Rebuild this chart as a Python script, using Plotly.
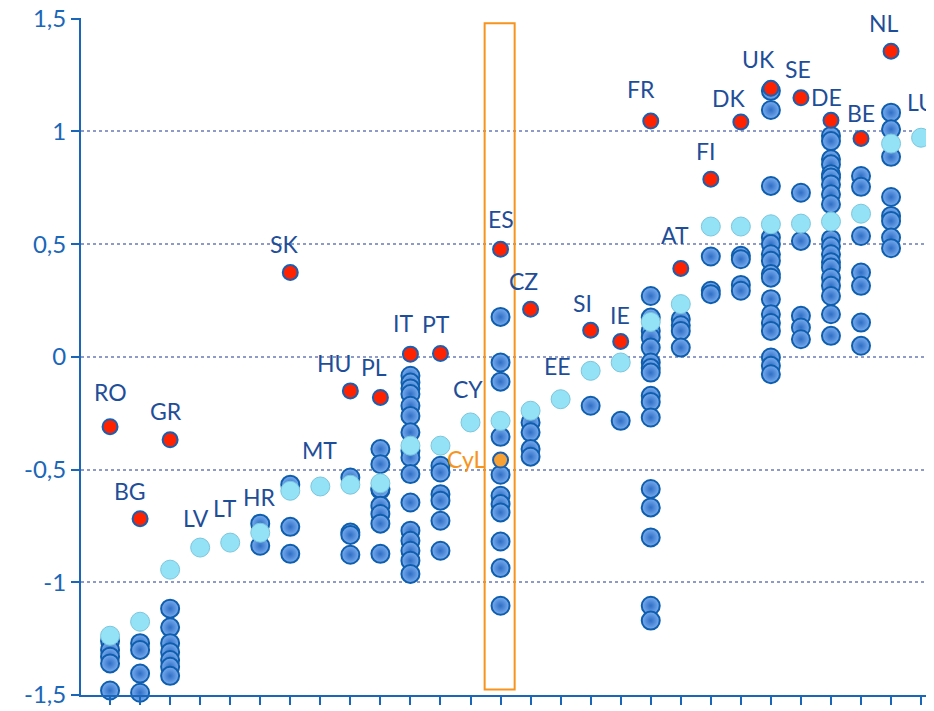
import plotly.graph_objects as go

# country codes, left to right
countries = ["RO", "BG", "GR", "LV", "LT", "HR", "SK", "MT", "HU", "PL", "IT", "PT", "CY", "ES",
             "CZ", "EE", "SI", "IE", "FR", "AT", "FI", "DK", "UK", "SE", "DE", "BE", "NL", "LU"]

# capital region (red dots), None where not shown
capital = [-0.31, -0.718, -0.368, None, None, None, 0.374, None, -0.151, -0.18, 0.012, 0.015, None, 0.477,
           0.211, None, 0.118, 0.068, 1.046, 0.392, 0.788, 1.042, 1.191, 1.149, 1.049, 0.969, 1.356, None]

# national value (light blue dots)
national = [-1.237, -1.175, -0.944, -0.846, -0.824, -0.78, -0.594, -0.575, -0.567, -0.561, -0.394, -0.394,
            -0.291, -0.284, -0.239, -0.188, -0.062, -0.025, 0.155, 0.234, 0.578, 0.578, 0.588, 0.591,
            0.600, 0.635, 0.946, 0.972]

# other regions (dark blue dots)
regions = [
    [-1.26, -1.30, -1.33, -1.36, -1.48],
    [-1.27, -1.30, -1.405, -1.49],
    [-1.117, -1.20, -1.27, -1.31, -1.345, -1.375, -1.415],
    [],
    [],
    [-0.74, -0.838],
    [-0.567, -0.754, -0.874],
    [],
    [-0.535, -0.779, -0.79, -0.878],
    [-0.409, -0.476, -0.59, -0.585, -0.66, -0.697, -0.74, -0.874],
    [-0.084, -0.114, -0.14, -0.165, -0.217, -0.262, -0.335, -0.417, -0.446, -0.52, -0.646, -0.771,
     -0.816, -0.86, -0.904, -0.963],
    [-0.483, -0.513, -0.609, -0.638, -0.727, -0.86],
    [],
    [0.177, -0.025, -0.11, -0.355, -0.523, -0.616, -0.653, -0.69, -0.819, -0.937, -1.104],
    [-0.291, -0.335, -0.409, -0.443],
    [],
    [-0.217],
    [-0.284],
    [0.27, 0.174, 0.115, 0.086, 0.041, -0.025, -0.05, -0.07, -0.173, -0.2, -0.269, -0.586, -0.668,
     -0.801, -1.104, -1.17],
    [0.167, 0.14, 0.115, 0.041],
    [0.445, 0.293, 0.278],
    [0.448, 0.433, 0.319, 0.293],
    [1.18, 1.095, 0.758, 0.529, 0.5, 0.455, 0.426, 0.367, 0.351, 0.256, 0.189, 0.15, 0.115, -0.003,
     -0.04, -0.077],
    [0.728, 0.514, 0.182, 0.13, 0.078],
    [0.98, 0.957, 0.876, 0.854, 0.81, 0.795, 0.765, 0.721, 0.677, 0.522, 0.49, 0.455, 0.42, 0.396,
     0.351, 0.315, 0.27, 0.189, 0.093],
    [0.802, 0.754, 0.536, 0.374, 0.315, 0.152, 0.049],
    [1.083, 1.009, 0.887, 0.709, 0.625, 0.603, 0.529, 0.482],
    [],
]

# Castilla y Leon, highlighted inside the ES column
cyl_country = "ES"
cyl_value = -0.458
cyl_label = "CyL"

y_tickvals = [-1.5, -1.0, -0.5, 0.0, 0.5, 1.0, 1.5]
y_ticktext = ["-1,5", "-1", "-0,5", "0", "0,5", "1", "1,5"]

# label offsets in pixels (dx, dy) from the anchor dot
label_offsets = {
    "RO": (0, -35), "BG": (-10, -28), "GR": (-4, -29), "LV": (-4, -30), "LT": (-5, -35),
    "HR": (-1, -36), "SK": (-6, -29), "MT": (-1, -36), "HU": (-16, -28), "PL": (-6, -30),
    "IT": (-7, -31), "PT": (-4, -29), "CY": (-3, -33), "ES": (0, -30), "CZ": (-7, -28),
    "EE": (-3, -33), "SI": (-8, -27), "IE": (-1, -27), "FR": (-10, -32), "AT": (-6, -33),
    "FI": (-5, -28), "DK": (-12, -24), "UK": (-12, -29), "SE": (-3, -29), "DE": (-4, -23),
    "BE": (0, -25), "NL": (-7, -28), "LU": (0, -36),
}

AXIS_BLUE = "#1A66B8"
LABEL_BLUE = "#1F4E99"
ORANGE = "#F7941D"
FONT = "Lato, 'Open Sans', sans-serif"

fig = go.Figure()

# dark blue regions
rx, ry = [], []
for c, vals in zip(countries, regions):
    rx += [c] * len(vals)
    ry += vals
fig.add_trace(go.Scatter(
    x=rx, y=ry, mode="markers", cliponaxis=False, showlegend=False,
    marker=dict(size=18, color="#7AADEE", gradient=dict(type="radial", color="#2F6FC6"),
                line=dict(color="#0F5EAE", width=2)),
))

# light blue national values
fig.add_trace(go.Scatter(
    x=countries, y=national, mode="markers", cliponaxis=False, showlegend=False,
    marker=dict(size=19, color="#93E2F6", line=dict(color="#7CC6DE", width=1)),
))

# red capital regions
cx = [c for c, v in zip(countries, capital) if v is not None]
cy = [v for v in capital if v is not None]
fig.add_trace(go.Scatter(
    x=cx, y=cy, mode="markers", cliponaxis=False, showlegend=False,
    marker=dict(size=15, color="#FF2200", line=dict(color="#1A5FB0", width=2)),
))

# CyL highlight
fig.add_trace(go.Scatter(
    x=[cyl_country], y=[cyl_value], mode="markers", cliponaxis=False, showlegend=False,
    marker=dict(size=15, color="#F7A033", line=dict(color="#1A5FB0", width=2)),
))

# orange frame around the ES column
es_idx = countries.index(cyl_country)
fig.add_shape(type="rect", xref="x", yref="y",
              x0=es_idx - 0.53, x1=es_idx + 0.47, y0=-1.476, y1=1.48,
              line=dict(color=ORANGE, width=2), fillcolor="rgba(0,0,0,0)")

# country labels
for i, c in enumerate(countries):
    anchor = capital[i] if capital[i] is not None else national[i]
    dx, dy = label_offsets[c]
    fig.add_annotation(x=c, y=anchor, text=c, showarrow=False,
                       xshift=dx, yshift=-dy,
                       font=dict(family=FONT, size=23, color=LABEL_BLUE))

fig.add_annotation(x=cyl_country, y=cyl_value, text=cyl_label, showarrow=False,
                   xshift=-34, yshift=1,
                   font=dict(family=FONT, size=23, color=ORANGE))

# the page body keeps its default 8px margin, so the figure is offset by it
fig.update_layout(
    width=926, height=703,
    margin=dict(l=73, r=0, t=10, b=16),
    plot_bgcolor="white", paper_bgcolor="white",
    font=dict(family=FONT, color=AXIS_BLUE),
    xaxis=dict(
        type="category", categoryorder="array", categoryarray=countries,
        range=[-0.967, 27.43], showticklabels=False, showgrid=False, zeroline=False,
        showline=True, linecolor=AXIS_BLUE, linewidth=2,
        ticks="outside", ticklen=8, tickwidth=2, tickcolor=AXIS_BLUE,
    ),
    yaxis=dict(
        range=[-1.5, 1.503], tickvals=y_tickvals, ticktext=y_ticktext,
        showgrid=True, gridcolor="#8E9BC9", griddash="dot", gridwidth=1.5,
        zeroline=False, showline=True, linecolor=AXIS_BLUE, linewidth=2,
        ticks="outside", ticklen=8, tickwidth=2, tickcolor=AXIS_BLUE,
        tickfont=dict(family=FONT, size=24, color=AXIS_BLUE), automargin=False,
        ticklabeloverflow="allow",
    ),
)

fig.write_html("out.html")
